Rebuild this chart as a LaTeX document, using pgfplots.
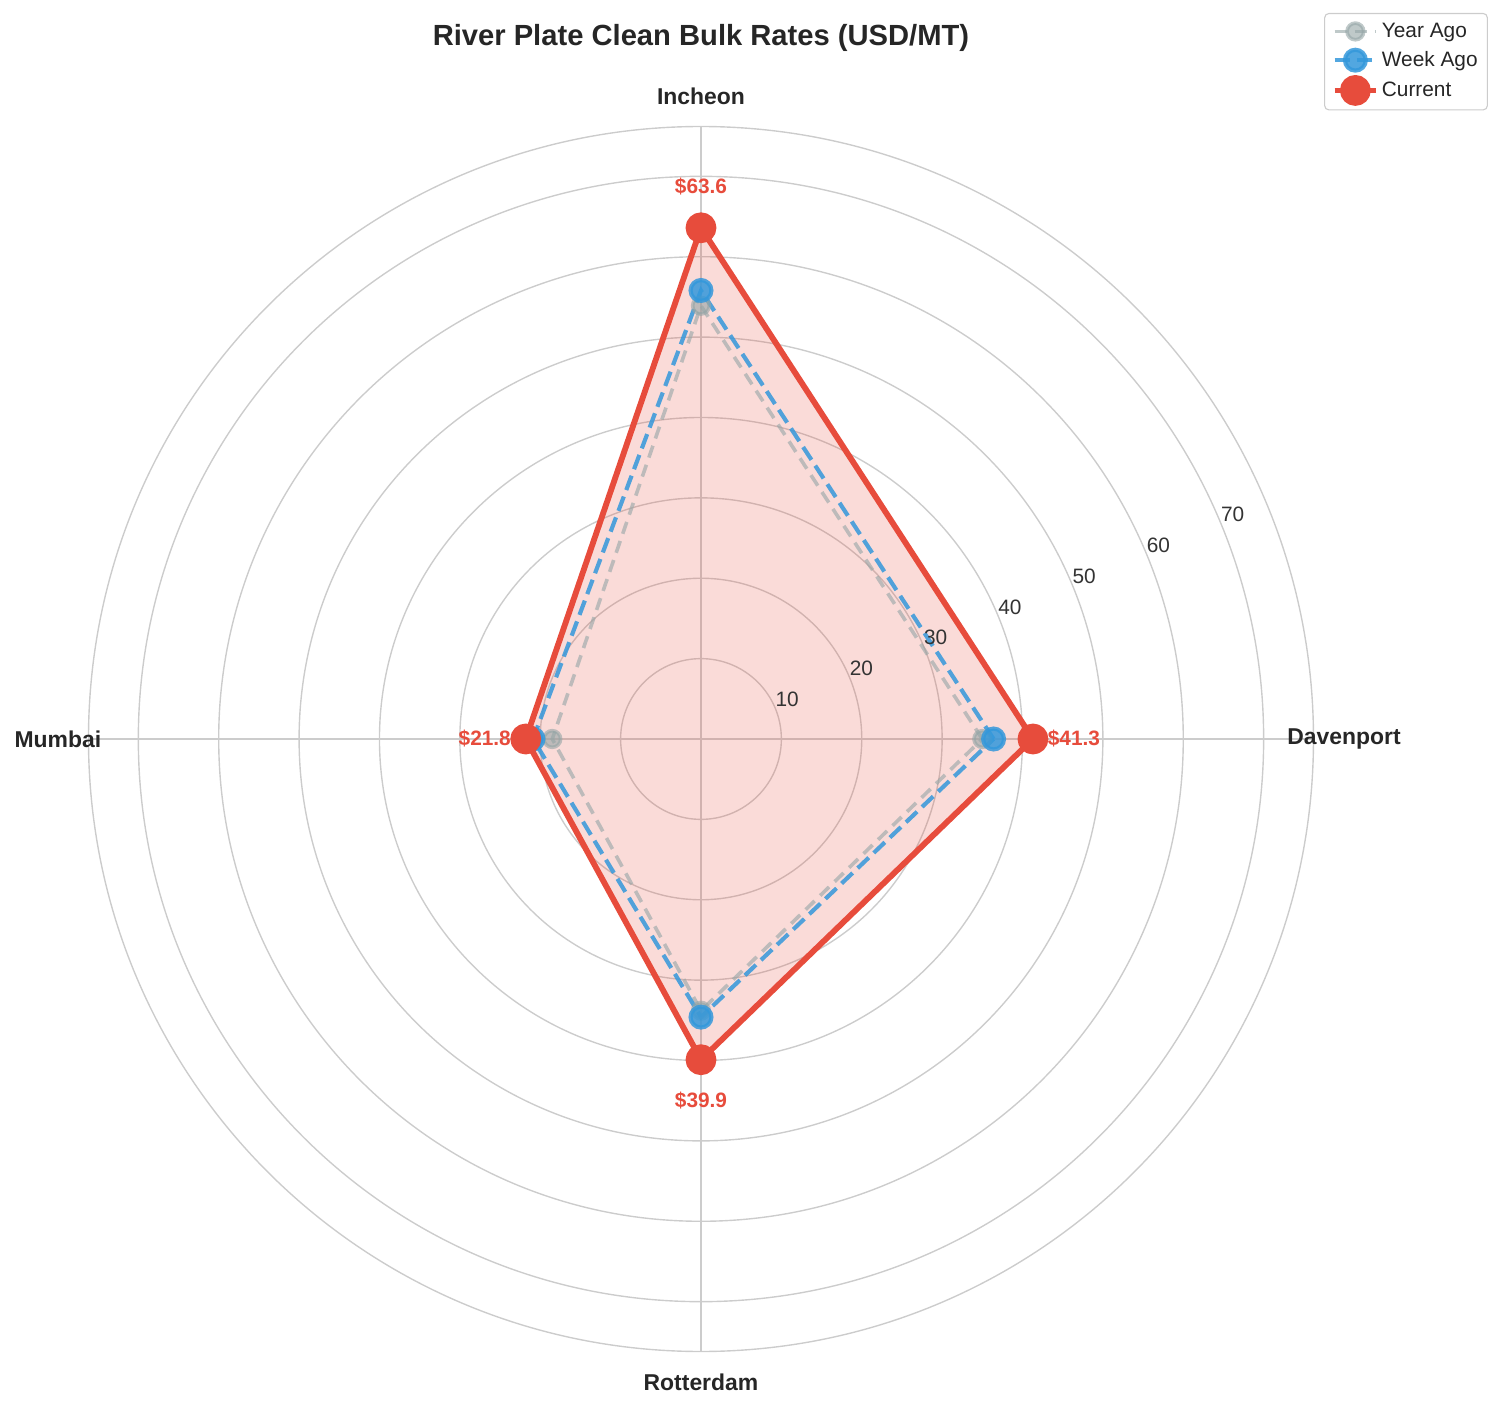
\documentclass[border=0pt]{standalone}
\usepackage{pgfplots}
\pgfplotsset{compat=1.18}
\usepgfplotslibrary{polar}
\usepackage{fontspec}
\setmainfont{Liberation Sans}
\definecolor{cur}{HTML}{E74C3C}
\definecolor{wk}{HTML}{3498DB}
\definecolor{yr}{HTML}{95A5A6}
\definecolor{gridc}{HTML}{CCCCCC}
\definecolor{txt}{HTML}{262626}
\definecolor{tick}{HTML}{333333}
\begin{document}
\begin{tikzpicture}
\path[use as bounding box] (-504.72pt,-481.68pt) rectangle (577.44pt,532.08pt);
\begin{polaraxis}[
  at={(0pt,0pt)}, anchor=origin,
  scale only axis, width=882pt, height=882pt,
  xmin=0, xmax=360, ymin=0, ymax=76.2,
  xtick={0,90,180,270}, xticklabels={},
  ytick={10,20,30,40,50,60,70}, yticklabels={},
  xmajorgrids, ymajorgrids,
  major grid style={draw=gridc, line width=1pt},
  axis line style={draw=gridc, line width=1pt},
  major tick length=0pt,
  clip=false,
  legend style={at={(1.1424,1.0927)}, anchor=north east, draw=gridc, line width=0.8pt,
    rounded corners=3pt, fill=white, font=\fontsize{15}{18}\selectfont, text=txt,
    row sep=4.6pt, inner xsep=5pt, inner ysep=5pt, cells={anchor=west}},
  legend image code/.code={\draw[#1, mark=none] (0pt,0pt) -- (30pt,0pt);
     \draw[#1, draw opacity=1, mark indices={1}] plot coordinates {(15pt,0pt)};},
]
% fill of current
\addplot[draw=none, fill=cur, fill opacity=0.2, forget plot]
  coordinates {(0,41.3) (90,63.6) (180,21.8) (270,39.9) (360,41.3)};
% Year ago
\addplot[draw=yr, draw opacity=0.6, line width=2.6pt, dash pattern=on 9pt off 5.5pt,
  mark=*, mark size=6pt, mark indices={1,2,3,4},
  mark options={solid, fill=yr, draw=yr, opacity=0.6}]
  coordinates {(0,35.0) (90,53.9) (180,18.5) (270,33.8) (360,35.0)};
\addlegendentry{Year Ago}
% Week ago
\addplot[draw=wk, draw opacity=0.85, line width=3pt, dash pattern=on 11pt off 5pt,
  mark=*, mark size=7.5pt, mark indices={1,2,3,4},
  mark options={solid, fill=wk, draw=wk, opacity=0.85}]
  coordinates {(0,36.4) (90,55.8) (180,20.9) (270,34.6) (360,36.4)};
\addlegendentry{Week Ago}
% Current
\addplot[draw=cur, line width=4.2pt, line join=round,
  mark=*, mark size=9pt, mark indices={1,2,3,4},
  mark options={solid, fill=cur, draw=cur}]
  coordinates {(0,41.3) (90,63.6) (180,21.8) (270,39.9) (360,41.3)};
\addlegendentry{Current}
% value labels
\node[text=cur, font=\bfseries\fontsize{15}{18}\selectfont] at (axis cs:90,68.7) {\$63.6};
\node[text=cur, font=\bfseries\fontsize{15}{18}\selectfont] at (axis cs:0,46.4) {\$41.3};
\node[text=cur, font=\bfseries\fontsize{15}{18}\selectfont] at (axis cs:180,26.9) {\$21.8};
\node[text=cur, font=\bfseries\fontsize{15}{18}\selectfont] at (axis cs:270,45.0) {\$39.9};
% category labels
\node[text=txt, font=\bfseries\fontsize{16.5}{20}\selectfont] at (axis cs:0,80) {Davenport};
\node[text=txt, font=\bfseries\fontsize{16.5}{20}\selectfont] at (axis cs:90,80) {Incheon};
\node[text=txt, font=\bfseries\fontsize{16.5}{20}\selectfont] at (axis cs:180,80) {Mumbai};
\node[text=txt, font=\bfseries\fontsize{16.5}{20}\selectfont] at (axis cs:270,80) {Rotterdam};
% radial tick labels
\node[text=tick, font=\fontsize{15}{18}\selectfont, xshift=8.6pt, yshift=6.5pt] at (axis cs:22.5,10) {10};
\node[text=tick, font=\fontsize{15}{18}\selectfont, xshift=8.6pt, yshift=6.5pt] at (axis cs:22.5,20) {20};
\node[text=tick, font=\fontsize{15}{18}\selectfont, xshift=8.6pt, yshift=6.5pt] at (axis cs:22.5,30) {30};
\node[text=tick, font=\fontsize{15}{18}\selectfont, xshift=8.6pt, yshift=6.5pt] at (axis cs:22.5,40) {40};
\node[text=tick, font=\fontsize{15}{18}\selectfont, xshift=8.6pt, yshift=6.5pt] at (axis cs:22.5,50) {50};
\node[text=tick, font=\fontsize{15}{18}\selectfont, xshift=8.6pt, yshift=6.5pt] at (axis cs:22.5,60) {60};
\node[text=tick, font=\fontsize{15}{18}\selectfont, xshift=8.6pt, yshift=6.5pt] at (axis cs:22.5,70) {70};
\end{polaraxis}
\node[text=txt, font=\bfseries\fontsize{21}{25}\selectfont] at (0pt,504.7pt) {River Plate Clean Bulk Rates (USD/MT)};
\end{tikzpicture}
\end{document}
